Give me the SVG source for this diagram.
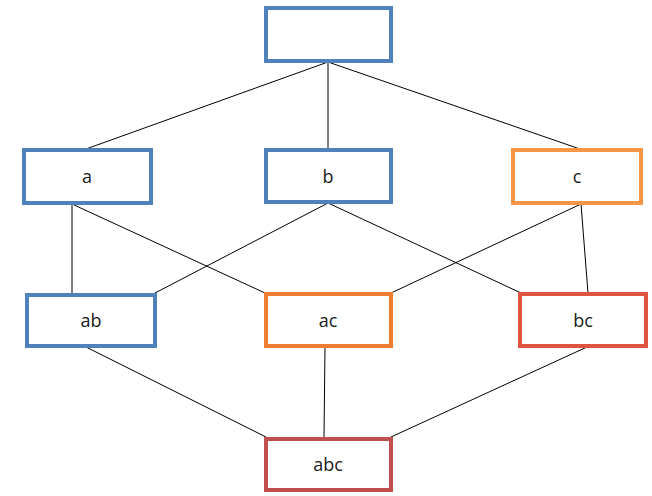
<svg xmlns="http://www.w3.org/2000/svg" width="652" height="496" viewBox="0 0 652 496">
<style>
.box{fill:#fff;stroke-width:4}
.blue{stroke:#4F81BD}
.orange{stroke:#F79646}
.orange2{stroke:#ED7D31}
.red{stroke:#E0533E}
.dred{stroke:#C0504D}
.lbl{font-family:"Open Sans","Liberation Sans",sans-serif;font-size:18px;fill:#1a1a1a;text-anchor:middle;dominant-baseline:central}
.edge{stroke:#000;stroke-width:1;fill:none}
</style>
<g id="connectors">
<line class="edge" x1="328" y1="62" x2="86" y2="149"/>
<line class="edge" x1="328" y1="62" x2="328" y2="149"/>
<line class="edge" x1="328" y1="62" x2="580" y2="149"/>
<line class="edge" x1="72" y1="204" x2="72" y2="293"/>
<line class="edge" x1="72" y1="204" x2="265" y2="293"/>
<line class="edge" x1="328" y1="203" x2="155" y2="293"/>
<line class="edge" x1="328" y1="203" x2="521" y2="293"/>
<line class="edge" x1="581" y1="204" x2="391" y2="293"/>
<line class="edge" x1="581" y1="204" x2="588" y2="293"/>
<line class="edge" x1="86" y1="347" x2="266" y2="437"/>
<line class="edge" x1="325" y1="347" x2="324" y2="437"/>
<line class="edge" x1="587" y1="347" x2="391" y2="437"/>
</g>
<g id="top"><rect class="box blue" x="266" y="8" width="125" height="53"/></g>
<g id="a"><rect class="box blue" x="24" y="150" width="127" height="53"/><text class="lbl" x="87" y="176">a</text></g>
<g id="b"><rect class="box blue" x="266" y="150" width="125" height="52"/><text class="lbl" x="328" y="176">b</text></g>
<g id="c"><rect class="box orange" x="513" y="150" width="128" height="53"/><text class="lbl" x="577" y="176">c</text></g>
<g id="ab"><rect class="box blue" x="27" y="295" width="128" height="51"/><text class="lbl" x="91" y="320">ab</text></g>
<g id="ac"><rect class="box orange2" x="266" y="294" width="125" height="52"/><text class="lbl" x="328" y="320">ac</text></g>
<g id="bc"><rect class="box red" x="520" y="294" width="126" height="52"/><text class="lbl" x="583" y="320">bc</text></g>
<g id="abc"><rect class="box dred" x="266" y="439" width="125" height="51"/><text class="lbl" x="328" y="464">abc</text></g>
</svg>
